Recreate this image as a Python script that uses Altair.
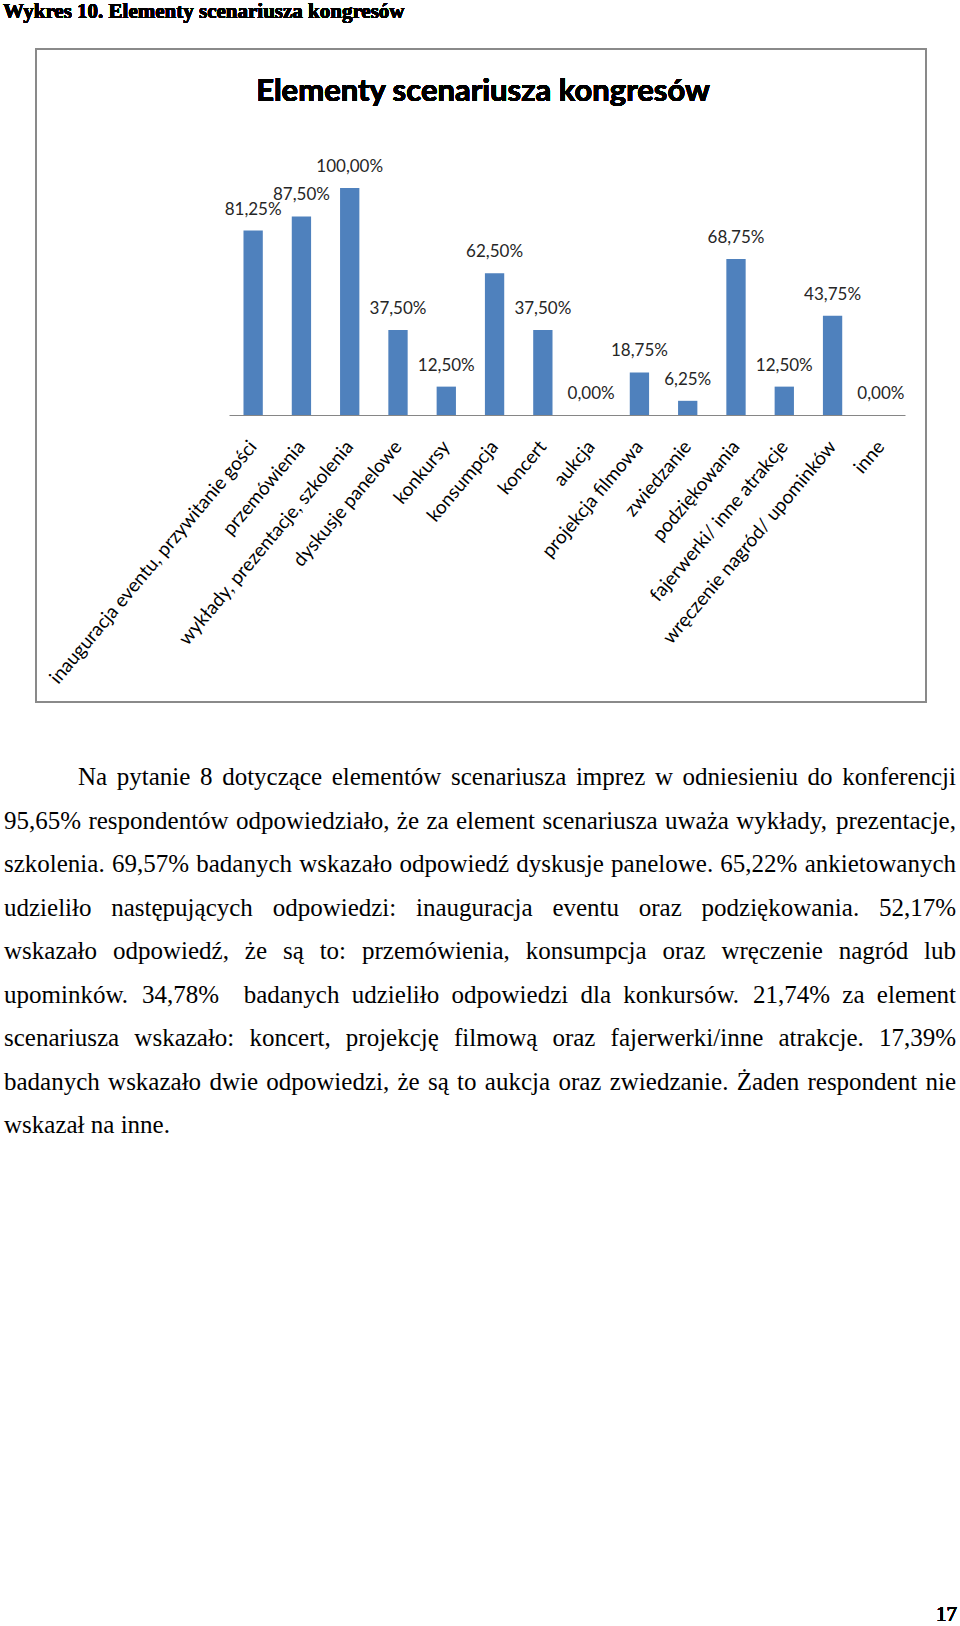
import altair as alt
import pandas as pd

# ---------------- data ----------------
kategorie = [
    "inauguracja eventu, przywitanie gości",
    "przemówienia",
    "wykłady, prezentacje, szkolenia",
    "dyskusje panelowe",
    "konkursy",
    "konsumpcja",
    "koncert",
    "aukcja",
    "projekcja filmowa",
    "zwiedzanie",
    "podziękowania",
    "fajerwerki/ inne atrakcje",
    "wręczenie nagród/ upominków",
    "inne",
]
wartosci = [81.25, 87.50, 100.00, 37.50, 12.50, 62.50, 37.50, 0.00,
            18.75, 6.25, 68.75, 12.50, 43.75, 0.00]

naglowek = "Wykres 10. Elementy scenariusza kongresów"
tytul_wykresu = "Elementy scenariusza kongresów"
numer_strony = "17"
akapit = [
    "Na pytanie 8 dotyczące elementów scenariusza imprez w odniesieniu do konferencji",
    "95,65% respondentów odpowiedziało, że za element scenariusza uważa wykłady, prezentacje,",
    "szkolenia. 69,57% badanych wskazało odpowiedź dyskusje panelowe. 65,22% ankietowanych",
    "udzieliło następujących odpowiedzi: inauguracja eventu oraz podziękowania. 52,17%",
    "wskazało odpowiedź, że są to: przemówienia, konsumpcja oraz wręczenie nagród lub",
    "upominków. 34,78%  badanych udzieliło odpowiedzi dla konkursów. 21,74% za element",
    "scenariusza wskazało: koncert, projekcję filmową oraz fajerwerki/inne atrakcje. 17,39%",
    "badanych wskazało dwie odpowiedzi, że są to aukcja oraz zwiedzanie. Żaden respondent nie",
    "wskazał na inne.",
]

# ---------------- page layout (pixels) ----------------
PAGE_W, PAGE_H = 960, 1626
PL, PT = 229, 188          # plot area origin on the page
PW, PH = 676, 227          # plot area size
BODY_FS = 25
BODY_LEFT, BODY_RIGHT, BODY_INDENT = 4, 956, 78
BODY_BASE0, BODY_STEP = 785, 43.5

# Times / Liberation Serif advance widths (per 1000 em) for layout of justified text
TIMES = {' ': 250, '%': 833, ',': 250, '.': 250, ':': 278, '/': 278,
         'a': 444, 'b': 500, 'c': 444, 'd': 500, 'e': 444, 'f': 333, 'g': 500,
         'h': 500, 'i': 278, 'j': 278, 'k': 500, 'l': 278, 'm': 778, 'n': 500,
         'o': 500, 'p': 500, 'q': 500, 'r': 333, 's': 389, 't': 278, 'u': 500,
         'v': 500, 'w': 722, 'x': 500, 'y': 500, 'z': 444,
         'N': 722, 'Ż': 611, 'ą': 444, 'ę': 444, 'ć': 444, 'ł': 278, 'ń': 500,
         'ó': 500, 'ś': 389, 'ź': 444, 'ż': 444}


def tw(s):
    return sum(TIMES.get(c, 500) for c in s) * BODY_FS / 1000.0


rows = []
for i, line in enumerate(akapit):
    y = BODY_BASE0 + i * BODY_STEP - PT
    x0 = BODY_INDENT if i == 0 else BODY_LEFT
    tokens = line.split(' ')
    last = i == len(akapit) - 1
    if last:
        gap = tw(' ')
    else:
        gap = (BODY_RIGHT - x0 - sum(tw(t) for t in tokens)) / (len(tokens) - 1)
    cur = x0
    for k, t in enumerate(tokens):
        if t:
            rows.append({"x": cur - PL, "y": y, "t": t})
            cur += tw(t)
        cur += gap
words = pd.DataFrame(rows)

df = pd.DataFrame({
    "kategoria": kategorie,
    "wartosc": wartosci,
    "etykieta": [f"{v:.2f}".replace(".", ",") + "%" for v in wartosci],
})

x_scale = alt.Scale(paddingInner=0.6, paddingOuter=0.3)
x_axis = alt.Axis(title=None, labelAngle=-50, labelAlign="right",
                  labelBaseline="middle", labelPadding=28, ticks=False,
                  domainColor="#868686", domainWidth=1, labelFont="Lato",
                  labelFontSize=19, labelColor="#000000", labelLimit=600,
                  labelOverlap=False, grid=False)
y_enc = alt.Y("wartosc:Q", scale=alt.Scale(domain=[0, 100], nice=False, zero=True),
              axis=None)

box = alt.Chart(df).mark_rect(color="white", fillOpacity=0, stroke="#8a8a8a",
                              strokeWidth=1.2).encode(
    x=alt.value(36 - PL), x2=alt.value(926 - PL),
    y=alt.value(49 - PT), y2=alt.value(702 - PT),
)

bars = alt.Chart(df).mark_bar(color="#4F81BD").encode(
    x=alt.X("kategoria:N", sort=kategorie, scale=x_scale, axis=x_axis), y=y_enc)

labels = alt.Chart(df).mark_text(font="Lato", fontSize=17, color="#262626",
                                 baseline="alphabetic", dy=-16).encode(
    x=alt.X("kategoria:N", sort=kategorie, scale=x_scale, axis=None),
    y=y_enc, text="etykieta:N")

title_mark = alt.Chart(df).mark_text(font="Lato", fontWeight="bold", fontSize=31,
                                     align="center", baseline="alphabetic",
                                     color="#000000").encode(
    x=alt.value(483 - PL), y=alt.value(101 - PT), text=alt.value(tytul_wykresu))

header_mark = alt.Chart(df).mark_text(font="Liberation Serif", fontWeight="bold",
                                      fontSize=21, align="left", baseline="alphabetic",
                                      color="#000000").encode(
    x=alt.value(3 - PL), y=alt.value(18 - PT), text=alt.value(naglowek))

page_mark = alt.Chart(df).mark_text(font="Liberation Serif", fontSize=21,
                                    align="right", baseline="alphabetic",
                                    color="#000000").encode(
    x=alt.value(957 - PL), y=alt.value(1621 - PT), text=alt.value(numer_strony))

body = alt.Chart(words).mark_text(font="Liberation Serif", fontSize=BODY_FS,
                                  align="left", baseline="alphabetic",
                                  color="#000000").encode(
    x=alt.X("x:Q", scale=None, axis=None),
    y=alt.Y("y:Q", scale=None, axis=None),
    text="t:N",
)

chart = alt.layer(box, bars, labels, title_mark, header_mark, page_mark, body).resolve_scale(
    x="independent", y="independent"
).properties(
    width=PW, height=PH,
    background="white",
    padding={"left": PL, "top": PT, "right": PAGE_W - PL - PW, "bottom": PAGE_H - PT - PH},
    autosize=alt.AutoSizeParams(type="none"),
).configure_view(strokeWidth=0, stroke=None)

chart.save("out.html", embed_options={"renderer": "svg", "actions": False})
